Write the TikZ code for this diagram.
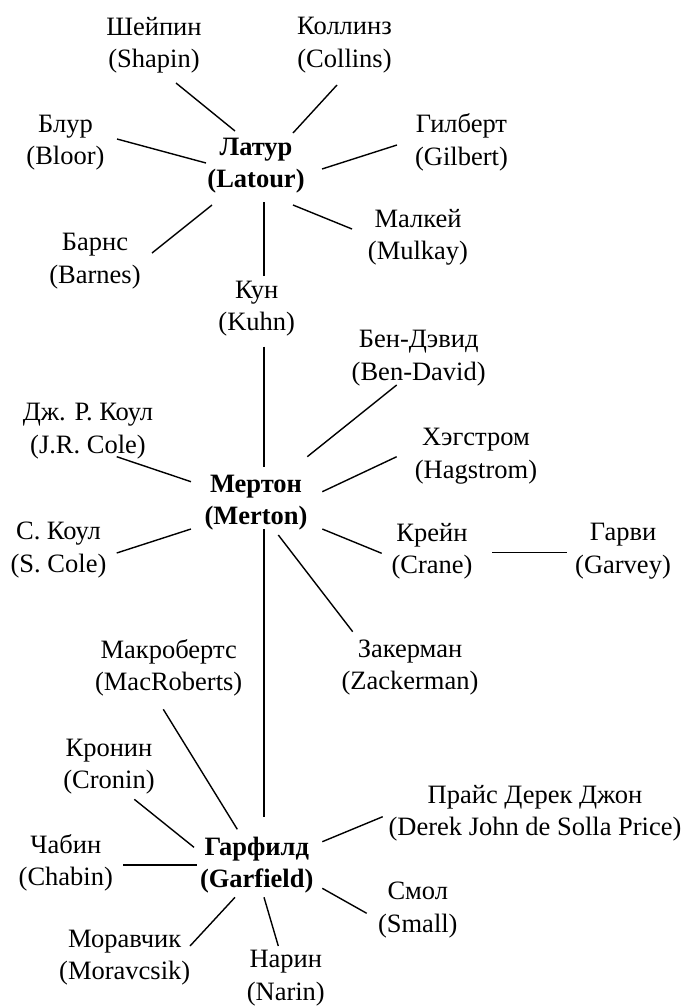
\documentclass[tikz,border=0pt]{standalone}
\usepackage{fontspec}
\setmainfont{Liberation Serif}
\usetikzlibrary{calc}
\begin{document}
\begin{tikzpicture}[x=1pt,y=-1pt,
  every node/.style={align=center, inner sep=0pt, font=\fontsize{26.5}{32.5}\selectfont},
  hub/.style={font=\fontsize{26.5}{32.5}\selectfont\bfseries},
  link/.style={line width=1.4pt}]
\useasboundingbox (0,0) rectangle (685,1007);
% hubs
\node[hub] (latour) at (256,165.5) {Латур\\(Latour)};
\node[hub] (merton) at (256,502.5) {Мертон\\(Merton)};
\node[hub] (garfield) at (256.7,865) {Гарфилд\\(Garfield)};
% Latour group
\node (shapin) at (154,45) {Шейпин\\(Shapin)};
\node (collins) at (344.5,45) {Коллинз\\(Collins)};
\node (bloor) at (65.5,142.5) {Блур\\(Bloor)};
\node (gilbert) at (461.5,142.5) {Гилберт\\(Gilbert)};
\node (barnes) at (95,261) {Барнс\\(Barnes)};
\node (mulkay) at (418,237.5) {Малкей\\(Mulkay)};
\node (kuhn) at (256.7,308.5) {Кун\\(Kuhn)};
% Merton group
\node (bendavid) at (418.7,358) {Бен-Дэвид\\(Ben-David)};
\node (jrcole) at (88,431) {Дж. Р. Коул\\(J.R. Cole)};
\node (hagstrom) at (476,456) {Хэгстром\\(Hagstrom)};
\node (scole) at (58.5,550) {С. Коул\\(S. Cole)};
\node (crane) at (432,551) {Крейн\\(Crane)};
\node (garvey) at (623,551) {Гарви\\(Garvey)};
\node (zackerman) at (410,667.5) {Закерман\\(Zackerman)};
% Garfield group
\node (macroberts) at (168.7,668) {Макробертс\\(MacRoberts)};
\node (cronin) at (109,766.7) {Кронин\\(Cronin)};
\node (price) at (535,813) {Прайс Дерек Джон\\(Derek John de Solla Price)};
\node (chabin) at (65.8,863) {Чабин\\(Chabin)};
\node (small) at (417.8,910) {Смол\\(Small)};
\node (moravcsik) at (124.7,957.5) {Моравчик\\(Moravcsik)};
\node (narin) at (285.8,978) {Нарин\\(Narin)};
% connectors
\draw[link] ($(shapin)+(22,38)$) -- ($(latour)+(-21,-34.5)$);
\draw[link] ($(collins)+(-7.5,40)$) -- ($(latour)+(37,-32.5)$);
\draw[link] ($(bloor)+(51.5,-3.5)$) -- ($(latour)+(-50,-2.5)$);
\draw[link] ($(gilbert)+(-64.5,2.5)$) -- ($(latour)+(66,3.5)$);
\draw[link] ($(barnes)+(57,-8)$) -- ($(latour)+(-44,39.5)$);
\draw[link] ($(kuhn)+(7.3,-32.5)$) -- ($(latour)+(8,36.5)$);
\draw[link] ($(mulkay)+(-66,-8.5)$) -- ($(latour)+(37,39.5)$);
\draw[link] ($(kuhn)+(7.3,38.2)$) -- ($(merton)+(8,-35.8)$);
\draw[link] ($(jrcole)+(28.7,25.7)$) -- ($(merton)+(-65,-20.8)$);
\draw[link] ($(scole)+(58.2,3)$) -- ($(merton)+(-65,26.5)$);
\draw[link] ($(bendavid)+(-22,27)$) -- ($(merton)+(51.3,-45.8)$);
\draw[link] ($(hagstrom)+(-79.3,0.7)$) -- ($(merton)+(66.3,-10.8)$);
\draw[link] ($(crane)+(-50.3,2.3)$) -- ($(merton)+(66.3,26.5)$);
\draw[link] ($(zackerman)+(-57.3,-35.8)$) -- ($(merton)+(22.3,32.5)$);
\draw[link] ($(crane)+(60.3,1.7)$) -- ($(garvey)+(-56.3,1.7)$);
\draw[link] ($(merton)+(8,26.5)$) -- ($(garfield)+(7.3,-48.3)$);
\draw[link] ($(macroberts)+(-5.4,41.3)$) -- ($(garfield)+(-19.4,-35.7)$);
\draw[link] ($(cronin)+(25.3,32.6)$) -- ($(garfield)+(-62.7,-17.7)$);
\draw[link] ($(chabin)+(57.5,2)$) -- ($(garfield)+(-59.4,0)$);
\draw[link] ($(price)+(-152.3,3.7)$) -- ($(garfield)+(65.6,-23.3)$);
\draw[link] ($(small)+(-51.1,3.3)$) -- ($(garfield)+(65.6,23.3)$);
\draw[link] ($(moravcsik)+(65.3,-11.5)$) -- ($(garfield)+(-21.7,32.3)$);
\draw[link] ($(narin)+(-7.5,-32)$) -- ($(garfield)+(7.3,32.3)$);
\end{tikzpicture}
\end{document}
